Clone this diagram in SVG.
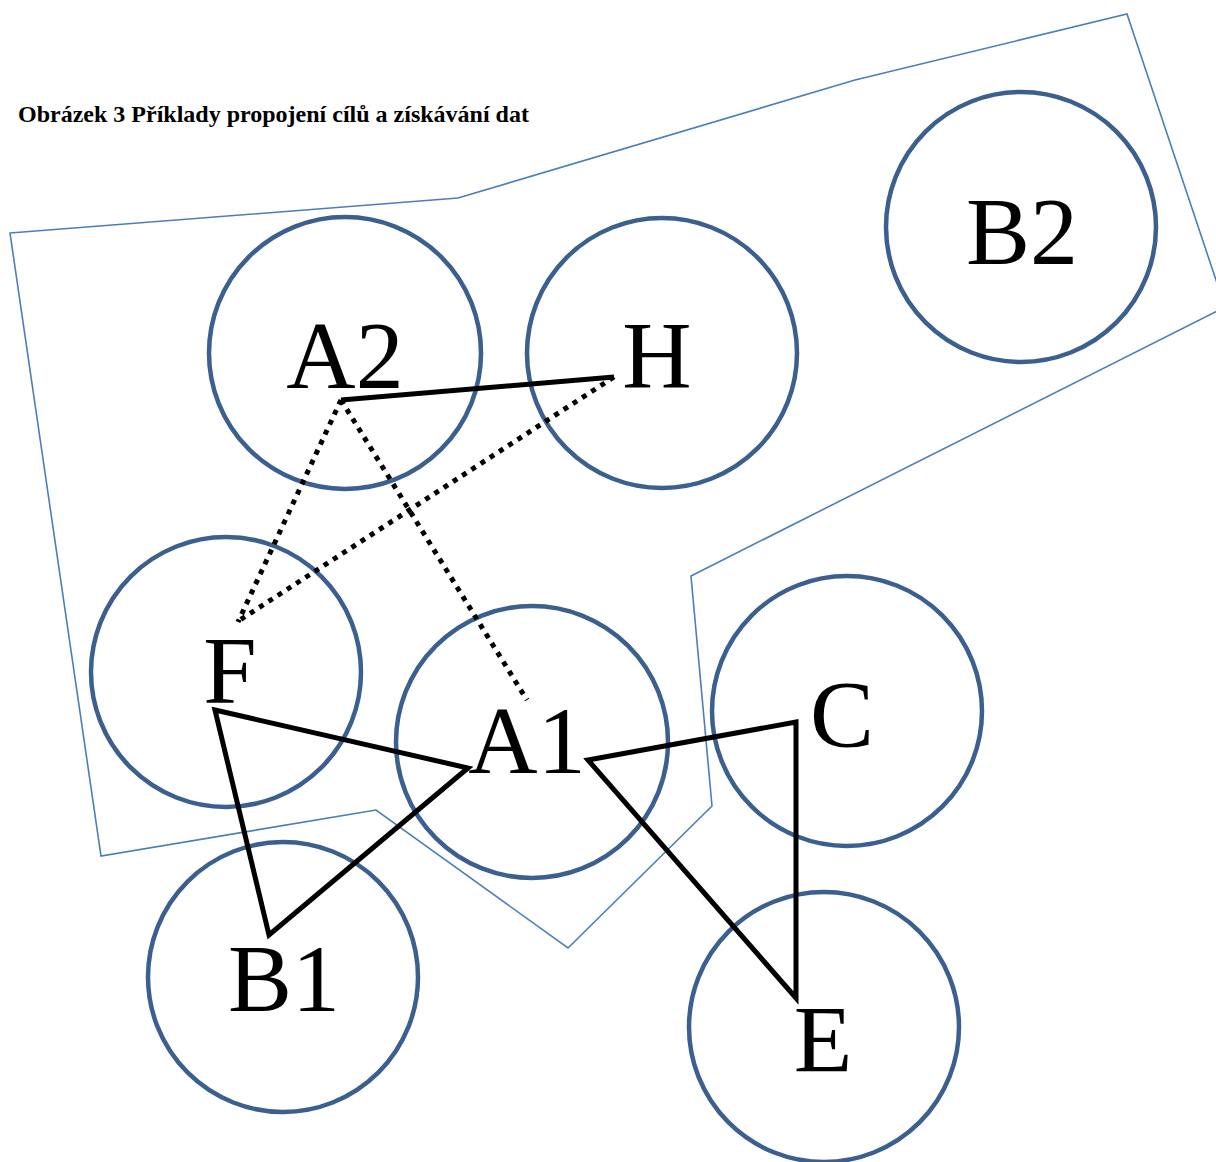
<svg xmlns="http://www.w3.org/2000/svg" width="1216" height="1162" viewBox="0 0 1216 1162">
<style>
.title{font-family:"Liberation Serif","Times New Roman",serif;font-weight:bold;font-size:24px;fill:#000}
.node circle{fill:none;stroke:#3b5f8e;stroke-width:4.5}
.node text{font-family:"Liberation Serif","Times New Roman",serif;font-size:96px;fill:#000;text-anchor:middle}
.solid{fill:none;stroke:#000;stroke-width:5;stroke-linejoin:miter}
.dot{fill:none;stroke:#000;stroke-width:5;stroke-dasharray:5 6}
.zone{fill:none;stroke:#4a7ebb;stroke-width:1.6}
</style>
<rect width="1216" height="1162" fill="#fff"/>
<text class="title" x="18" y="122">Obrázek 3 Příklady propojení cílů a získávání dat</text>
<polygon class="zone" points="10,233 458,198 855,80 1127,14 1225,307 691,576 712,806 568,948 376,810 101,856"/>
<g id="nodes">
<g id="node-A2" class="node"><circle cx="345" cy="353" r="136"/><text x="345" y="388">A2</text></g>
<g id="node-H" class="node"><circle cx="662" cy="353" r="135"/><text x="657" y="388">H</text></g>
<g id="node-B2" class="node"><circle cx="1021" cy="227" r="135"/><text x="1022" y="264">B2</text></g>
<g id="node-F" class="node"><circle cx="226" cy="672" r="135"/><text x="230" y="703">F</text></g>
<g id="node-A1" class="node"><circle cx="532" cy="742" r="136"/><text x="527" y="773">A1</text></g>
<g id="node-C" class="node"><circle cx="847" cy="711" r="135"/><text x="842" y="747">C</text></g>
<g id="node-B1" class="node"><circle cx="283" cy="977" r="135"/><text x="284" y="1011">B1</text></g>
<g id="node-E" class="node"><circle cx="824" cy="1027" r="135"/><text x="823" y="1072">E</text></g>
</g>
<g id="connectors">
<path class="solid" d="M341,400 L614,377"/>
<path class="dot" d="M341,400 L238,622"/>
<path class="dot" d="M614,377 L240,620"/>
<path class="dot" d="M341,400 L527,700"/>
<path class="solid" d="M215,710 L468,768 L269,935 Z"/>
<path class="solid" d="M588,760 L796,722 L796,998 Z"/>
</g>
</svg>
